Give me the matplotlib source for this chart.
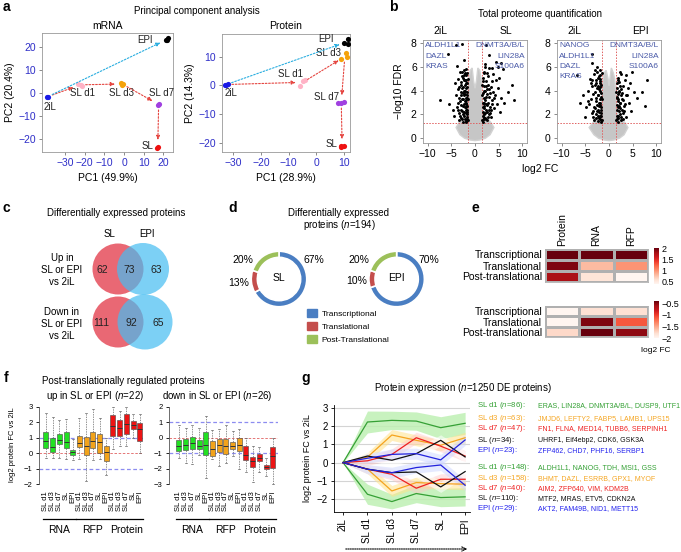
import numpy as np
import matplotlib
matplotlib.use('Agg')
import matplotlib.pyplot as plt
from matplotlib.patches import Circle, Patch, FancyArrowPatch

plt.rcParams['font.family'] = ['Liberation Sans', 'DejaVu Sans']
plt.rcParams['mathtext.fontset'] = 'custom'
plt.rcParams['mathtext.rm'] = 'Liberation Sans'
plt.rcParams['mathtext.it'] = 'Liberation Sans:italic'
plt.rcParams['font.size'] = 7
plt.rcParams['axes.linewidth'] = 0.6
plt.rcParams['xtick.major.width'] = 0.6
plt.rcParams['ytick.major.width'] = 0.6
plt.rcParams['xtick.major.size'] = 2.5
plt.rcParams['ytick.major.size'] = 2.5
plt.rcParams['xtick.major.pad'] = 2
plt.rcParams['ytick.major.pad'] = 2

# ---------------- data ----------------
# a: PCA
stages = ['2iL', 'SL d1', 'SL d3', 'SL d7', 'SL', 'EPI']
stage_cols = ['#1a1ae6', '#ffb3c6', '#f5a20a', '#a040e0', '#ee1111', '#000000']
mrna_pc1 = [[-39.3, -38.8], [-23.3, -22.1, -21.6], [-1.7, -0.3, -1.0], [17.8, 17.4], [17.3, 17.0], [21.4, 22.2, 21.8]]
mrna_pc2 = [[-1.8, -1.6], [3.9, 3.5, 3.1], [4.2, 3.9, 3.6], [-4.8, -5.1], [-23.2, -23.6], [23.0, 23.6, 22.7]]
prot_pc1 = [[-33.0, -32.5, -32.0], [-5.9, -4.7, -3.9], [9.1, 10.9, 11.0], [7.9, 9.1, 10.1], [8.9, 9.1, 10.1], [10.0, 11.3, 11.4]]
prot_pc2 = [[0.2, 0.3, 0.5], [-0.2, 1.6, 1.9], [9.0, 11.1, 9.9], [-6.2, -5.9, -5.6], [-21.0, -21.4, -20.8], [14.6, 16.1, 14.4]]

# b: volcano plots (significant proteins, black)
sl_fc = [-4.1, -2.7, -5.7, -3.9, -2.3, -7.3, -5.5, -3.2, -2.8, -3.5, -2.2, -1.8, -4.2, -3.0, -2.5, -1.9, -3.6, -2.9,
         -2.1, -1.6, -4.0, -3.3, -2.6, -1.8, -2.3, -3.0, -3.8, -1.6, -2.0, -2.7, -3.4, -1.7, -2.3, -2.9, -1.6, -2.0,
         -2.6, -3.3, -1.8, -4.4, -1.7, -2.4, -1.6, -2.2, -1.9, -3.7, -4.6, -1.65,
         -1.5, -1.7, -1.9, -2.1, -2.3, -2.5, -2.7, -2.9, -3.1, -1.6, -1.8, -2.0, -2.2, -2.4, -2.6, -2.8, -3.0, -3.2,
         -1.5, -1.7, -1.9, -2.1, -2.3, -2.5, -2.7, -2.9, -1.6, -1.8, -2.0, -2.2, -2.4, -2.6, -1.5, -1.7, -1.9, -2.1,
         -2.3, -2.8, -3.3, -3.6,
         2.4, 3.0, 4.4, 5.4, 4.8, 5.9, 3.7, 2.2, 7.9, 8.3, 6.9, 6.2, 5.5, 4.8, 4.3, 3.5, 2.8, 2.0, 1.7, 2.3, 3.0,
         1.8, 2.6, 3.6, 2.0, 1.6, 2.4, 3.2, 4.0, 1.8, 2.2, 2.9, 1.6, 2.0, 2.6, 1.7, 3.4, 4.6, 5.2, 3.8, 1.9, 2.4,
         1.5, 1.7, 1.9, 2.1, 2.3, 2.5, 2.7, 2.9, 3.1, 1.6, 1.8, 2.0, 2.2, 2.4, 2.6, 2.8, 3.0, 3.3, 1.5, 1.7, 1.9,
         2.1, 2.5, 2.7, 3.1, 3.4, 1.6, 1.8, 2.3, 2.6, 4.1, 4.4, 5.0, 3.9, 2.1, 1.5, 2.9, 3.6]
sl_fdr = [7.85, 7.9, 7.05, 6.1, 6.6, 3.25, 2.9, 5.6, 5.2, 5.0, 4.9, 5.3, 4.6, 4.5, 4.3, 4.2, 4.1, 3.9,
          3.7, 3.9, 3.6, 3.4, 3.3, 3.2, 2.9, 2.8, 2.6, 2.7, 2.4, 2.3, 2.1, 2.0, 1.9, 1.7, 1.6, 1.45,
          1.4, 1.5, 1.35, 1.9, 4.6, 5.7, 3.4, 3.1, 2.6, 3.0, 2.4, 2.2,
          1.5, 1.8, 2.1, 1.6, 2.2, 2.0, 1.6, 2.4, 1.9, 2.4, 2.9, 3.0, 2.6, 3.6, 2.7, 3.3, 3.6, 3.1,
          3.3, 3.6, 3.4, 4.0, 4.0, 3.8, 4.2, 4.7, 4.3, 4.9, 4.6, 4.5, 4.9, 5.1, 5.0, 5.5, 5.8, 5.5,
          5.3, 5.6, 4.3, 2.4,
          7.85, 7.0, 6.4, 6.3, 6.0, 5.8, 5.9, 6.2, 4.45, 3.2, 3.9, 3.0, 3.4, 4.2, 3.6, 4.8, 5.2, 5.5, 4.8, 4.4, 4.1,
          4.0, 3.7, 3.2, 3.4, 3.0, 2.9, 2.6, 2.5, 2.5, 2.1, 2.0, 1.9, 1.6, 1.5, 1.4, 1.8, 2.9, 2.2, 3.9, 1.7, 2.4,
          1.5, 2.2, 2.0, 1.7, 1.6, 2.2, 1.8, 2.4, 2.1, 2.6, 3.0, 2.7, 3.2, 3.5, 2.8, 3.0, 3.5, 2.4, 3.6, 3.8, 4.4,
          4.0, 4.1, 4.5, 3.8, 4.3, 5.1, 5.6, 4.8, 5.5, 3.4, 4.9, 5.1, 5.4, 6.0, 4.5, 5.9, 2.9]
epi_fc = [-3.7, -6.8, -3.7, -2.6, -5.5, -4.8, -3.2, -2.4, -4.0, -1.8, -3.5, -2.8, -2.0, -4.4, -3.0, -2.3, -1.7,
          -3.8, -2.7, -1.9, -4.2, -3.2, -2.4, -1.6, -3.6, -2.8, -2.0, -1.7, -2.4, -3.1, -1.6, -2.1, -1.8, -5.0,
          -2.2, -1.65, -6.2, -3.3,
          -1.5, -1.7, -1.9, -2.1, -2.3, -2.5, -2.7, -2.9, -3.3, -1.6, -1.8, -2.0, -2.2, -2.4, -2.6, -2.8, -3.0, -3.4,
          -1.5, -1.7, -1.9, -2.1, -2.3, -2.5, -2.7, -1.6, -1.8, -2.0, -2.2, -2.5, -1.5, -1.9, -2.9, -3.9, -4.5, -3.6,
          4.9, 8.1, 7.0, 7.7, 5.2, 4.5, 3.6, 2.6, 2.0, 3.0, 2.2, 1.7, 3.6, 2.7, 1.9, 4.2, 3.2, 2.4, 1.7, 2.9,
          2.0, 1.6, 2.5, 3.5, 1.8, 4.6, 6.0, 2.3, 1.7, 2.8,
          1.5, 1.7, 1.9, 2.1, 2.3, 2.5, 2.7, 2.9, 3.2, 1.6, 1.8, 2.0, 2.2, 2.4, 2.6, 3.0, 3.4, 1.5, 1.7, 1.9,
          2.1, 2.3, 2.6, 1.6, 1.9, 2.2, 3.8, 4.1, 2.4, 3.3]
epi_fdr = [7.1, 5.3, 6.3, 6.0, 3.6, 2.6, 5.4, 5.1, 5.0, 5.3, 4.4, 4.6, 4.3, 4.0, 3.9, 3.6, 3.8,
           3.3, 3.1, 3.0, 2.9, 2.6, 2.4, 2.6, 2.1, 2.0, 1.9, 1.55, 1.45, 1.5, 2.1, 2.7, 4.6, 1.8,
           1.7, 1.4, 3.0, 1.8,
           1.5, 1.9, 1.6, 2.2, 1.9, 2.3, 1.7, 2.5, 2.3, 2.4, 2.8, 3.3, 3.0, 3.6, 2.8, 3.4, 4.5, 3.7,
           3.3, 3.5, 4.0, 4.1, 4.4, 4.2, 4.9, 4.5, 5.0, 4.8, 5.2, 5.6, 5.5, 5.7, 5.7, 4.6, 3.1, 4.9,
           5.6, 4.9, 3.9, 2.7, 3.9, 4.6, 5.3, 5.4, 4.9, 4.4, 3.9, 4.2, 3.6, 3.3, 3.1, 3.0, 2.7, 2.5, 2.4, 2.1,
           1.9, 1.6, 1.5, 1.8, 1.4, 2.3, 3.4, 3.0, 3.5, 3.8,
           1.5, 1.9, 1.7, 2.3, 2.0, 1.8, 2.4, 1.6, 2.3, 2.8, 2.6, 3.3, 2.7, 3.0, 3.6, 3.2, 2.9, 3.9, 3.4, 3.7,
           4.0, 4.4, 4.1, 4.6, 5.1, 4.7, 3.6, 4.2, 5.6, 4.9]
# outline of the dense grey cloud of non-significant proteins
cloud_sl_x = [-4.0, -3.2, -2.2, -1.0, 0.0, 1.0, 2.2, 3.2, 4.0, 3.4, 2.4, 1.7, 1.5, 1.3, 1.0, 0.6, 0.3, 0.0,
              -0.3, -0.6, -1.0, -1.3, -1.5, -1.7, -2.4, -3.4]
cloud_sl_y = [0.9, 0.3, 0.0, -0.15, -0.2, -0.15, 0.0, 0.3, 0.9, 1.3, 1.8, 2.2, 3.5, 5.0, 5.7, 5.9, 4.8, 4.2,
              4.8, 5.9, 5.7, 5.0, 3.5, 2.2, 1.8, 1.3]
cloud_epi_x = [-4.2, -3.2, -2.2, -1.0, 0.0, 1.0, 2.2, 3.2, 4.0, 3.4, 2.4, 1.7, 1.5, 1.2, 0.9, 0.5, 0.2, 0.0,
               -0.2, -0.6, -1.0, -1.3, -1.5, -1.7, -2.4, -3.4]
cloud_epi_y = [0.9, 0.3, 0.0, -0.15, -0.2, -0.15, 0.0, 0.3, 0.9, 1.3, 1.8, 2.2, 3.5, 5.0, 5.5, 5.9, 5.0, 4.4,
               5.0, 5.7, 5.5, 4.8, 3.5, 2.2, 1.8, 1.3]
labels_sl_left = ['ALDH1L1', 'DAZL', 'KRAS']
labels_epi_left = ['NANOG', 'ALDH1L1', 'DAZL', 'KRAS']
labels_right = ['DNMT3A/B/L', 'LIN28A', 'S100A6']

# c: Venn counts (SL only, both, EPI only)
venn_up = [62, 73, 63]
venn_down = [111, 92, 65]

# d: regulation class shares (%)
reg_classes = ['Transcriptional', 'Translational', 'Post-Translational']
reg_cols = ['#4a7ec2', '#c44e4c', '#9cc05a']
share_sl = [67, 13, 20]
share_epi = [70, 10, 20]

# e: mean log2 FC per class
heat_rows = ['Transcriptional', 'Translational', 'Post-translational']
heat_cols = ['Protein', 'RNA', 'RFP']
heat_up = [[2.0, 2.0, 2.0], [1.92, 0.79, 0.98], [1.76, 0.54, 0.38]]
heat_down = [[-2.0, -1.81, -1.81], [-2.0, -0.48, -1.12], [-1.76, -0.40, -0.53]]

# f: boxplots (15 boxes: RNA, RFP, Protein x SL d1, SL d3, SL d7, SL, EPI)
box_labels = ['SL d1', 'SL d3', 'SL d7', 'SL', 'EPI'] * 3
box_cols = ['#22e022'] * 5 + ['#f2a31b'] * 5 + ['#ec1414'] * 5
up_med = [0.8, 0.4, 0.85, 0.7, 0.05, 0.65, 0.5, 0.8, 0.7, 0.05, 1.75, 1.6, 1.9, 1.8, 1.55]
up_q1 = [0.35, 0.05, 0.6, 0.35, -0.1, 0.4, -0.1, 0.35, 0.0, -0.5, 1.1, 1.1, 1.25, 1.55, 0.8]
up_q3 = [1.35, 1.0, 1.25, 1.35, 0.2, 1.1, 1.05, 1.4, 1.25, 0.45, 2.45, 2.15, 2.55, 2.1, 1.95]
up_lo = [-0.3, -0.3, -0.3, -0.35, -0.45, -0.4, -1.8, -0.45, -0.4, -1.4, 0.3, 0.5, 0.45, 1.0, 0.0]
up_hi = [2.6, 2.35, 2.15, 2.2, 0.9, 2.3, 2.6, 2.85, 2.3, 1.0, 3.0, 2.7, 3.0, 2.5, 2.5]
dn_med = [-0.5, -0.45, -0.35, -0.55, -0.45, -0.7, -0.45, -0.5, -0.5, -0.45, -1.14, -1.5, -1.3, -1.9, -1.18]
dn_q1 = [-0.85, -0.8, -0.75, -0.75, -1.1, -1.15, -0.9, -1.05, -0.7, -0.85, -1.46, -1.9, -1.5, -2.04, -1.94]
dn_q3 = [-0.15, -0.1, 0.05, -0.15, 0.4, -0.2, -0.05, -0.1, -0.3, 0.0, -0.54, -1.25, -1.03, -1.76, -0.6]
dn_lo = [-1.3, -1.65, -1.7, -1.1, -2.6, -1.35, -1.8, -1.6, -1.2, -2.0, -2.2, -2.84, -2.2, -2.47, -2.97]
dn_hi = [0.8, 0.65, 0.8, 0.6, 1.4, 0.5, 0.55, 0.85, 0.45, 0.55, 0.0, -0.54, -0.6, -1.33, 0.0]

# g: cluster mean profiles
up_green = [0, 2.22, 2.31, 2.27, 1.91, 2.15]
up_orange = [0, 0.3, 1.51, 1.22, 0.95, 1.36]
up_red = [0, 0.1, 0.45, 1.36, 0.9, 0.36]
up_black = [0, 0.36, 0.13, 0.49, 1.22, 0.31]
up_blue = [0, 0.24, 0.45, 0.49, 0.15, 1.24]
dn_green = [0, -1.73, -2.13, -1.69, -1.91, -1.87]
dn_orange = [0, -0.35, -1.55, -1.09, -1.15, -1.18]
dn_red = [0, -0.36, -0.64, -1.4, -0.91, -0.91]
dn_black = [0, -0.36, -0.55, -0.51, -1.33, -0.49]
dn_blue = [0, -0.36, -0.55, -0.27, -0.13, -1.24]
sd_green_up = [0, 0.6, 0.5, 0.5, 0.6, 0.6]
sd_green_dn = [0, 0.55, 0.4, 0.5, 0.5, 0.5]
sd_other = [0, 0.25, 0.3, 0.3, 0.3, 0.3]
cluster_up = ['SL d1 ($n$=86):', 'SL d3 ($n$=63):', 'SL d7 ($n$=47):', 'SL ($n$=34):', 'EPI ($n$=23):']
genes_up = ['ERAS, LIN28A, DNMT3A/B/L, DUSP9, UTF1', 'JMJD6, LEFTY2, FABP5, LAMB1, UPS15',
            'FN1, FLNA, MED14, TUBB6, SERPINH1', 'UHRF1, Eif4ebp2, CDK6, GSK3A', 'ZFP462, CHD7, PHF16, SERBP1']
cluster_dn = ['SL d1 ($n$=148):', 'SL d3 ($n$=158):', 'SL d7 ($n$=40):', 'SL ($n$=110):', 'EPI ($n$=29):']
genes_dn = ['ALDH1L1, NANOG, TDH, MSI1, GSS', 'BHMT, DAZL, ESRRB, GPX1, MYOF', 'AIM2, ZFP640, VIM, KDM2B',
            'MTF2, MRAS, ETV5, CDKN2A', 'AKT2, FAM49B, NID1, METT15']

# ---------------- figure ----------------
W, H = 681, 552
fig = plt.figure(figsize=(W / 100, H / 100), dpi=100)


def box(l, t, r, b):
    return [l / W, 1 - b / H, (r - l) / W, (b - t) / H]


def label(x, y, s, **kw):
    kw.setdefault('ha', 'center')
    kw.setdefault('va', 'center')
    fig.text(x / W, 1 - y / H, s, **kw)


for ch, x, y in [('a', 6, 7), ('b', 393, 7), ('c', 6, 208), ('d', 233, 208), ('e', 475, 208),
                 ('f', 6, 378), ('g', 306, 378)]:
    label(x, y, ch, fontsize=10, fontweight='bold')

# ---- a ----
label(197, 11, 'Principal component analysis')
pca_sets = [
    ((42, 33, 173, 152), mrna_pc1, mrna_pc2, (-41.7, 24.9), (-25.5, 25.9), 'mRNA', 'PC1 (49.9%)', 'PC2 (20.4%)',
     [(-37.6, -6.2), (-21, 0.1), (-1.4, 0.1), (19, 0.1), (11.8, -22.8), (10.5, 22.9)], [-30, -20, -10, 0, 10, 20],
     [-20, -10, 0, 10, 20]),
    ((222, 34, 350, 152), prot_pc1, prot_pc2, (-34.1, 12.2), (-23, 17.8), 'Protein', 'PC1 (28.9%)', 'PC2 (14.3%)',
     [(-30.8, -2.5), (-9.3, 4.0), (4.4, 11.1), (3.7, -4.1), (5.4, -20.1), (3.6, 16.0)], [-30, -20, -10, 0, 10],
     [-20, -10, 0, 10]),
]
for rect, px, py, xl, yl, title, xlab, ylab, labpos, xt, yt in pca_sets:
    ax = fig.add_axes(box(*rect))
    for i in range(len(stages)):
        ax.scatter(px[i], py[i], s=14, color=stage_cols[i], lw=0, zorder=3)
        ax.text(labpos[i][0], labpos[i][1], stages[i], ha='center', va='center', fontsize=7, color='#222222')
    cen = [(np.mean(px[i]), np.mean(py[i])) for i in range(len(stages))]
    for a, b_, col in [(0, 1, '#e5443f'), (1, 2, '#e5443f'), (2, 3, '#e5443f'), (3, 4, '#e5443f'),
                       (0, 5, '#2aaee0')]:
        ax.annotate('', xy=cen[b_], xytext=cen[a],
                    arrowprops=dict(arrowstyle='-|>,head_length=0.35,head_width=0.15', color=col,
                                    ls=(0, (1.5, 1.5)), lw=0.8, shrinkA=4, shrinkB=5))
    ax.set_xlim(*xl)
    ax.set_ylim(*yl)
    ax.set_xticks(xt)
    ax.set_yticks(yt)
    ax.tick_params(labelsize=7.5, labelcolor='#2e2ec8', color='#777777')
    for s in ax.spines.values():
        s.set_color('#999999')
    cx = (rect[0] + rect[2]) / 2
    label(cx, 26, title, fontsize=7.5)
    label(cx, 178, xlab, fontsize=7.5)
    label(rect[0] - 32, (rect[1] + rect[3]) / 2, ylab, fontsize=7.5, rotation=90)

# ---- b ----
label(540, 14, 'Total proteome quantification')
label(540, 169, 'log2 FC', fontsize=7.5)
label(399, 91, '\u2212log10 FDR', fontsize=7.5, rotation=90)
vol_sets = [((423, 40, 527, 143), sl_fc, sl_fdr, cloud_sl_x, cloud_sl_y, labels_sl_left, ('2iL', 'SL')),
            ((557, 40, 661, 143), epi_fc, epi_fdr, cloud_epi_x, cloud_epi_y, labels_epi_left, ('2iL', 'EPI'))]
for rect, fx, fy, cxs, cys, llab, heads in vol_sets:
    ax = fig.add_axes(box(*rect))
    ax.fill(cxs, cys, color='#c6c6c6', lw=1.0, ec='#d2d2d2', zorder=1)
    ax.scatter(fx, fy, s=4.5, color='black', lw=0, zorder=3)
    ax.axvline(-1.4, color='#e06060', ls=(0, (1.5, 1.5)), lw=0.7, zorder=2)
    ax.axvline(1.4, color='#e06060', ls=(0, (1.5, 1.5)), lw=0.7, zorder=2)
    ax.axhline(1.3, color='#e06060', ls=(0, (1.5, 1.5)), lw=0.7, zorder=2)
    for k, t in enumerate(llab):
        ax.text(-10.5, 7.75 - 0.85 * k, t, ha='left', va='center', fontsize=6, color='#4a5aa8')
    for k, t in enumerate(labels_right):
        ax.text(10.5, 7.75 - 0.85 * k, t, ha='right', va='center', fontsize=6, color='#4a5aa8')
    ax.set_xlim(-11, 11)
    ax.set_ylim(-0.4, 8.25)
    ax.set_xticks([-10, -5, 0, 5, 10])
    ax.set_yticks([0, 2, 4, 6, 8])
    ax.tick_params(labelsize=7.5, color='#777777')
    for s in ax.spines.values():
        s.set_color('#999999')
    label(rect[0] + 17, 31, heads[0], fontsize=7.5)
    label(rect[2] - 21, 31, heads[1], fontsize=7.5)

# ---- c ----
label(116, 213, 'Differentially expressed proteins')
label(110, 234, 'SL')
label(147, 234, 'EPI')
label(62, 270, 'Up in\nSL or EPI\nvs 2iL', fontsize=7, linespacing=1.25)
label(62, 324, 'Down in\nSL or EPI\nvs 2iL', fontsize=7, linespacing=1.25)
axc = fig.add_axes(box(80, 240, 190, 355))
axc.set_xlim(80, 190)
axc.set_ylim(355, 240)
axc.axis('off')
for yc, counts, dx in [(269, venn_up, 25), (322, venn_down, 27)]:
    axc.add_patch(Circle((118, yc), 25.5, color='#e8606c', alpha=0.95, lw=0))
    axc.add_patch(Circle((118 + dx, yc), 26 if dx == 25 else 27.5, color='#45bdf2', alpha=0.7, lw=0))
    xs = [102, 129, 156] if dx == 25 else [101, 131, 158]
    for x, n in zip(xs, counts):
        axc.text(x, yc + 1, str(n), ha='center', va='center', fontsize=7.5, color='#222222')

# ---- d ----
label(339, 213, 'Differentially expressed')
label(339, 225, 'proteins ($n$=194)')
donuts = [((250.7, 250.7, 307.3, 307.3), share_sl, 'SL', [(1.24, 0.67), (-1.45, -0.14), (-1.31, 0.67)]),
          ((368, 250.7, 425.3, 307.3), share_epi, 'EPI', [(1.17, 0.67), (-1.43, -0.07), (-1.36, 0.67)])]
for rect, share, name, pos in donuts:
    ax = fig.add_axes(box(*rect))
    ax.pie(share, colors=reg_cols, startangle=90, counterclock=False, radius=1,
           wedgeprops=dict(width=0.22, edgecolor='white', linewidth=1.2))
    ax.set_xlim(-1.02, 1.02)
    ax.set_ylim(-1.02, 1.02)
    ax.text(0, 0.02, name, ha='center', va='center', fontsize=7.5)
    for (px_, py_), v in zip(pos, share):
        ax.text(px_, py_, f'{v}%', ha='center', va='center', fontsize=7.5, clip_on=False)
fig.legend([Patch(color=c) for c in reg_cols], reg_classes, loc='upper left',
           bbox_to_anchor=(304 / W, 1 - 306 / H), frameon=False, fontsize=6, handlelength=1.1,
           handleheight=1.1, labelspacing=0.5, handletextpad=0.6, borderaxespad=0)

# ---- e ----
heat_sets = [((545, 249, 648, 282), heat_up, (0.38, 2.0), (654, 248, 659, 284), [2, 1.5, 1, 0.5], True),
             ((545, 306, 648, 337), heat_down, (-2.0, -0.4), (654, 301, 659, 338), [-0.5, -1, -1.5, -2], False)]
for rect, vals, (vmin, vmax), crect, cticks, top in heat_sets:
    ax = fig.add_axes(box(*rect))
    mesh = ax.pcolormesh(np.array(vals), cmap='Reds', vmin=vmin, vmax=vmax, edgecolors='#b0b0b0', linewidth=0.8)
    ax.set_ylim(3, 0)
    ax.set_yticks([0.5, 1.5, 2.5], heat_rows)
    ax.tick_params(length=0, labelsize=7.5, pad=2)
    if top:
        ax.xaxis.tick_top()
        ax.set_xticks([0.5, 1.5, 2.5], heat_cols, rotation=90)
    else:
        ax.set_xticks([])
    for s in ax.spines.values():
        s.set_color('#b0b0b0')
    cax = fig.add_axes(box(*crect))
    cb = fig.colorbar(mesh, cax=cax, ticks=cticks)
    cb.outline.set_visible(False)
    cb.ax.tick_params(length=0, labelsize=6.5, pad=2)
    cb.ax.set_yticklabels([f'{t:g}'.replace('-', '\u2212') for t in cticks])
label(656, 350, 'log2 FC', fontsize=6)

# ---- f ----
label(123, 381, 'Post-translationally regulated proteins')
label(95, 396, 'up in SL or EPI ($n$=22)')
label(217, 396, 'down in SL or EPI ($n$=26)')
box_sets = [((39, 403, 143, 488), (up_med, up_q1, up_q3, up_lo, up_hi), (-2.24, 3.24), (-0.04, 15.48),
             [-2, -1, 0, 1, 2, 3]),
            ((169, 403, 278, 488), (dn_med, dn_q1, dn_q3, dn_lo, dn_hi), (-3.24, 2.24), (-0.49, 15.78),
             [-3, -2, -1, 0, 1, 2])]
for rect, (md, a1, a3, lo, hi), yl, xl, yt in box_sets:
    ax = fig.add_axes(box(*rect))
    ax.axhline(1, color='#8c8cf0', ls=(0, (3, 2)), lw=0.9, zorder=0)
    ax.axhline(-1, color='#8c8cf0', ls=(0, (3, 2)), lw=0.9, zorder=0)
    ax.axhline(0, color='#e06060', ls=(0, (3, 2)), lw=0.6, zorder=0)
    stats = [dict(med=m, q1=b1, q3=b3, whislo=l, whishi=h, fliers=[]) for m, b1, b3, l, h in zip(md, a1, a3, lo, hi)]
    bp = ax.bxp(stats, positions=list(range(1, 16)), widths=0.75, patch_artist=True, showfliers=False,
                boxprops=dict(lw=0.4, edgecolor='#444444'), medianprops=dict(color='#333333', lw=0.7),
                whiskerprops=dict(ls=(0, (2, 1.5)), lw=0.5, color='#666666'),
                capprops=dict(lw=0.5, color='#666666'), capwidths=0.3)
    for patch, c in zip(bp['boxes'], box_cols):
        patch.set_facecolor(c)
    ax.set_xlim(*xl)
    ax.set_ylim(*yl)
    ax.set_yticks(yt, [f'{t}'.replace('-', '\u2212') for t in yt])
    ax.set_xticks(list(range(1, 16)), box_labels, rotation=90, fontsize=5.5)
    ax.tick_params(axis='x', length=0, pad=2)
    ax.tick_params(axis='y', labelsize=5.5, length=2.5)
    for s in ['top', 'right', 'bottom']:
        ax.spines[s].set_visible(False)
    ax.spines['left'].set_bounds(yt[0], yt[-1])
    ax.spines['left'].set_color('#555555')
    tr = ax.get_xaxis_transform()
    for g, (x0, x1) in enumerate([(0.55, 5.45), (5.55, 10.45), (10.55, 15.45)]):
        ax.plot([x0, x1], [-0.365, -0.365], transform=tr, clip_on=False, color='black', lw=0.9)
        ax.text((x0 + x1) / 2, -0.49, ['RNA', 'RFP', 'Protein'][g], transform=tr, ha='center', va='center',
                fontsize=7.5)
label(12, 445, 'log2 protein FC vs 2iL', fontsize=5.5, rotation=90)

# ---- g ----
label(463, 388, 'Protein expression ($n$=1250 DE proteins)')
axg = fig.add_axes(box(334, 405, 470, 512))
xs = np.arange(len(stages))
for v in range(-2, 4):
    axg.axhline(v, color='#d4d4d4', lw=0.8, zorder=0)
band_sets = [(up_green, sd_green_up, '#bff0b4', 0.85), (dn_green, sd_green_dn, '#bff0b4', 0.85),
             (up_orange, sd_other, '#ffe28a', 0.55), (dn_orange, sd_other, '#ffe28a', 0.55),
             (up_red, sd_other, '#ffc6c6', 0.45), (dn_red, sd_other, '#ffc6c6', 0.45),
             (up_black, sd_other, '#ffffff', 0.55), (dn_black, sd_other, '#ffffff', 0.55),
             (up_blue, sd_other, '#cdd6ff', 0.5), (dn_blue, sd_other, '#cdd6ff', 0.5)]
for mean, sd, col, al in band_sets:
    m = np.array(mean)
    s = np.array(sd)
    axg.fill_between(xs, m - s, m + s, color=col, alpha=al, lw=0, zorder=1)
g_cols = ['#35a035', '#f5a41f', '#ee2020', '#111111', '#2222dd']
for ser, col in zip([up_green, up_orange, up_red, up_black, up_blue, dn_green, dn_orange, dn_red, dn_black, dn_blue],
                    g_cols * 2):
    axg.plot(xs, ser, color=col, lw=0.9, zorder=3)
axg.set_xlim(-0.37, 5.2)
axg.set_ylim(-2.7, 3.15)
axg.set_yticks([-2, -1, 0, 1, 2, 3], ['\u22122', '\u22121', '0', '1', '2', '3'])
axg.set_xticks(xs, stages, rotation=90)
axg.tick_params(labelsize=7)
for s in ['top', 'right']:
    axg.spines[s].set_visible(False)
label(308, 458, 'log2 protein FC vs 2iL', fontsize=6.5, rotation=90)
fig.add_artist(FancyArrowPatch((343 / W, 1 - 549 / H), (470 / W, 1 - 549 / H), transform=fig.transFigure,
                               arrowstyle='->,head_length=3,head_width=1.5', ls=(0, (1, 1)), lw=0.8, color='black'))
txt_cols = ['#33a033', '#f5a623', '#ee2222', '#111111', '#2222ee']
for names, genes, ys in [(cluster_up, genes_up, [405.7, 418.3, 428.3, 440, 450.7]),
                         (cluster_dn, genes_dn, [467.7, 478.3, 488.3, 498.3, 509])]:
    for nm, gn, y, c in zip(names, genes, ys, txt_cols):
        label(477, y, nm, ha='left', fontsize=5.6, color=c)
        label(538, y, gn, ha='left', fontsize=5.0, color=c)

fig.savefig('out.png', dpi=100)
